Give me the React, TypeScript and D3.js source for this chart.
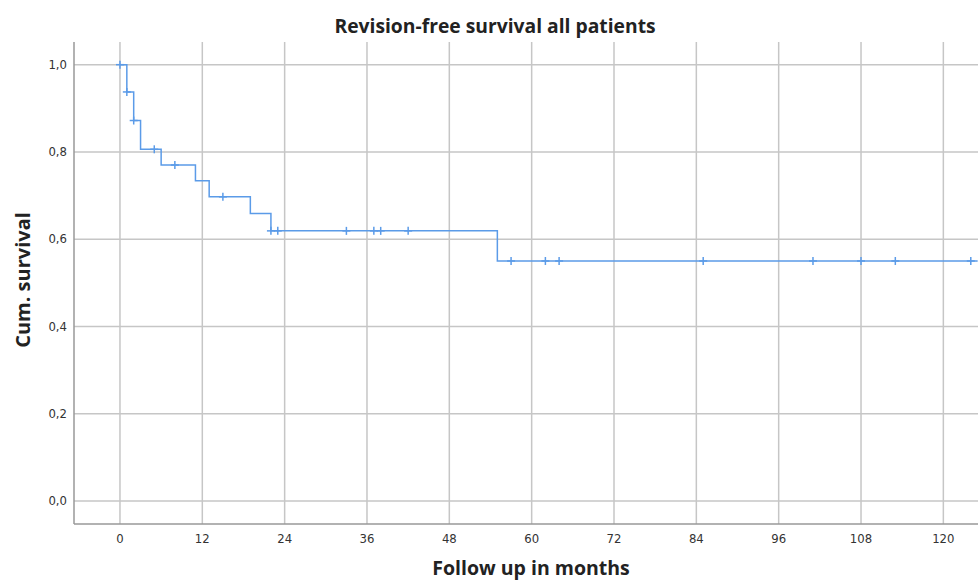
import React from "react";
import * as d3 from "d3";

const title = "Revision-free survival all patients";
const xTitle = "Follow up in months";
const yTitle = "Cum. survival";
const xTicks = [0, 12, 24, 36, 48, 60, 72, 84, 96, 108, 120];
const yTicks = [0, 0.2, 0.4, 0.6, 0.8, 1.0];
// Step function: event times and survival after each step
const stepTimes = [0, 1, 2, 3, 6, 11, 13, 19, 22, 55];
const stepSurv = [1.0, 0.9375, 0.872, 0.806, 0.77, 0.734, 0.697, 0.659, 0.619, 0.55];
const endTime = 125;
const censorTimes = [0, 1, 2, 5, 8, 15, 22, 23, 33, 37, 38, 42, 57, 62, 64, 85, 101, 108, 113, 124];

const W = 978;
const H = 581;
const left = 74;
const right = 978;
const top = 42;
const bottom = 524;

export default function App() {
  const x = d3.scaleLinear().domain([-6.7, 125.05]).range([left, right]);
  const y = d3.scaleLinear().domain([-0.053, 1.052]).range([bottom, top]);

  const survAt = (t: number) => {
    let s = stepSurv[0];
    for (let i = 0; i < stepTimes.length; i++) if (stepTimes[i] <= t) s = stepSurv[i];
    return s;
  };

  const pts: [number, number][] = stepTimes.map((t, i) => [t, stepSurv[i]]);
  pts.push([endTime, stepSurv[stepSurv.length - 1]]);
  const line = d3.line<[number, number]>().x((d) => x(d[0])).y((d) => y(d[1])).curve(d3.curveStepAfter);

  const fmt = (v: number) => v.toFixed(1).replace(".", ",");
  const blue = "#5b9be8";
  const grid = "#c6c6c6";
  const tickFont = "'DejaVu Sans', sans-serif";
  const font = "'Open Sans', 'DejaVu Sans', sans-serif";

  return (
    <svg width={W} height={H} style={{ position: "absolute", left: 0, top: 0, background: "#fff" }}>
      <rect width={W} height={H} fill="#fff" />
      {xTicks.map((t) => (
        <line key={"gx" + t} x1={x(t)} x2={x(t)} y1={top} y2={bottom} stroke={grid} strokeWidth={1.5} />
      ))}
      {yTicks.map((t) => (
        <line key={"gy" + t} x1={left} x2={right} y1={y(t)} y2={y(t)} stroke={grid} strokeWidth={1.5} />
      ))}
      <line x1={left} x2={left} y1={top} y2={bottom} stroke="#999" strokeWidth={1.5} />
      <line x1={left} x2={right} y1={bottom} y2={bottom} stroke="#999" strokeWidth={1.5} />
      {xTicks.map((t) => (
        <text key={"tx" + t} x={x(t)} y={bottom + 19} textAnchor="middle" fontSize={11.7} fontFamily={tickFont} fill="#333">
          {t}
        </text>
      ))}
      {yTicks.map((t) => (
        <text key={"ty" + t} x={left - 7} y={y(t) + 4.2} textAnchor="end" fontSize={11.7} fontFamily={tickFont} fill="#333">
          {fmt(t)}
        </text>
      ))}
      <path d={line(pts) || ""} fill="none" stroke={blue} strokeWidth={1.5} />
      {censorTimes.map((t, i) => {
        const cx = x(t);
        const cy = y(survAt(t));
        return (
          <g key={"c" + i} stroke={blue} strokeWidth={1.5}>
            <line x1={cx} x2={cx} y1={cy - 4} y2={cy + 4} />
            <line x1={cx - 4} x2={cx + 4} y1={cy} y2={cy} />
          </g>
        );
      })}
      <text x={495} y={33} textAnchor="middle" fontSize={19.3} fontWeight="bold" fontFamily={font} fill="#222">
        {title}
      </text>
      <text x={531} y={575} textAnchor="middle" fontSize={19.5} fontWeight="bold" fontFamily={font} fill="#222">
        {xTitle}
      </text>
      <text
        transform={`translate(30, 280) rotate(-90)`}
        textAnchor="middle"
        fontSize={20}
        fontWeight="bold"
        fontFamily={font}
        fill="#222"
      >
        {yTitle}
      </text>
    </svg>
  );
}
